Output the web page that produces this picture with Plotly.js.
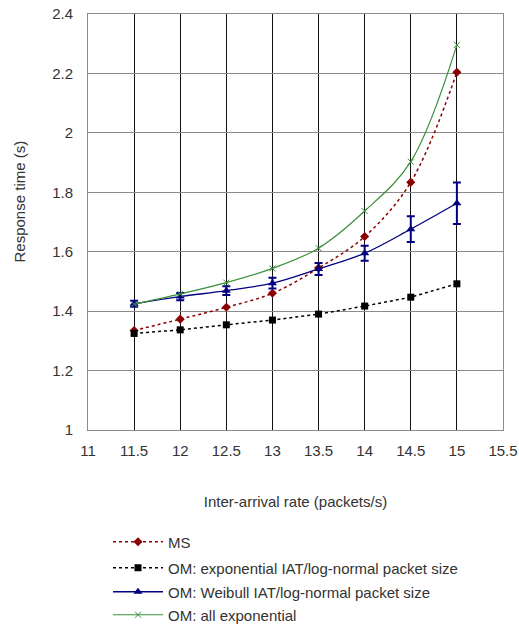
<!DOCTYPE html>
<html>
<head>
<meta charset="utf-8">
<script src="https://cdn.plot.ly/plotly-3.0.1.min.js"></script>
<style>html,body{margin:0;padding:0;background:#fff;}#chart{width:519px;height:627px;}</style>
</head>
<body>
<div id="chart"></div>
<script>
const rates = [11.5, 12, 12.5, 13, 13.5, 14, 14.5, 15];
const msValues = [1.335, 1.373, 1.413, 1.460, 1.545, 1.651, 1.834, 2.204];
const omExpLogNormal = [1.325, 1.337, 1.354, 1.370, 1.390, 1.417, 1.447, 1.492];
const omWeibull = [1.425, 1.449, 1.469, 1.494, 1.542, 1.595, 1.676, 1.763];
const omWeibullErr = [0.010, 0.012, 0.015, 0.018, 0.020, 0.025, 0.043, 0.070];
const omAllExp = [1.423, 1.458, 1.496, 1.544, 1.612, 1.737, 1.903, 2.296];
const seriesNames = ["MS", "OM: exponential IAT/log-normal packet size", "OM: Weibull IAT/log-normal packet size", "OM: all exponential"];
const xTitle = "Inter-arrival rate (packets/s)";
const yTitle = "Response time (s)";

const FONT = "Liberation Sans, Arial, sans-serif";
const FS = 15;
const TXT = "#333333";

const traces = [
  {x: rates, y: msValues, name: seriesNames[0], type: "scatter", mode: "lines+markers",
   line: {color: "#8b0000", dash: "dot", width: 1.5, shape: "spline"},
   marker: {symbol: "diamond", size: 7, color: "#8b0000"}, legend: "legend"},
  {x: rates, y: omExpLogNormal, name: seriesNames[1], type: "scatter", mode: "lines+markers",
   line: {color: "#000000", dash: "dot", width: 1.5},
   marker: {symbol: "square", size: 7, color: "#000000"}, legend: "legend2"},
  {x: rates, y: omWeibull, name: seriesNames[2], type: "scatter", mode: "lines+markers",
   line: {color: "#000080", width: 1.3, shape: "spline"},
   marker: {symbol: "triangle-up", size: 8, color: "#000080"},
   error_y: {type: "data", array: omWeibullErr, visible: true, color: "#000080", thickness: 2, width: 4},
   legend: "legend3"},
  {x: rates, y: omAllExp, name: seriesNames[3], type: "scatter", mode: "lines+markers",
   line: {color: "#3a8f3a", width: 1.2, shape: "spline"},
   marker: {symbol: "x-thin", size: 6, color: "#3a8f3a", line: {color: "#3a8f3a", width: 1}},
   legend: "legend4"}
];

const L = 88, T = 14, W = 415, H = 416;
function px(p) { return (p - L) / W; }
function py(p) { return (T + H - p) / H; }
function legendAt(p) {
  return {x: px(108), xanchor: "left", y: py(p), yanchor: "middle",
          bgcolor: "rgba(0,0,0,0)", font: {family: FONT, size: FS, color: TXT}, itemwidth: 50};
}

const layout = {
  width: 519, height: 627,
  margin: {l: L, r: 519 - L - W, t: T, b: 627 - T - H, pad: 0, autoexpand: false},
  paper_bgcolor: "#ffffff", plot_bgcolor: "#ffffff",
  font: {family: FONT, size: FS, color: TXT},
  xaxis: {
    range: [11, 15.5], dtick: 0.5, tick0: 11, showgrid: true, gridcolor: "#111111", gridwidth: 1,
    zeroline: false, showline: true, mirror: true, linecolor: "#8c8c8c", linewidth: 1,
    ticks: "", ticklabelstandoff: 7, automargin: false,
    tickfont: {family: FONT, size: FS, color: TXT},
    title: {text: xTitle, font: {family: FONT, size: FS, color: TXT}, standoff: 38}
  },
  yaxis: {
    range: [1, 2.4], dtick: 0.2, tick0: 1, showgrid: true, gridcolor: "#8c8c8c", gridwidth: 1,
    zeroline: false, showline: true, mirror: true, linecolor: "#8c8c8c", linewidth: 1,
    ticks: "", ticklabelstandoff: 11, automargin: false,
    tickfont: {family: FONT, size: FS, color: TXT}
  },
  annotations: [
    {text: yTitle, xref: "paper", yref: "paper", x: px(19), y: py(201.5), xanchor: "center", yanchor: "middle",
     textangle: -90, showarrow: false, font: {family: FONT, size: FS, color: TXT}}
  ],
  showlegend: true,
  legend: legendAt(542),
  legend2: legendAt(568),
  legend3: legendAt(592),
  legend4: legendAt(615)
};

Plotly.newPlot("chart", traces, layout, {displayModeBar: false, staticPlot: true});
</script>
</body>
</html>
